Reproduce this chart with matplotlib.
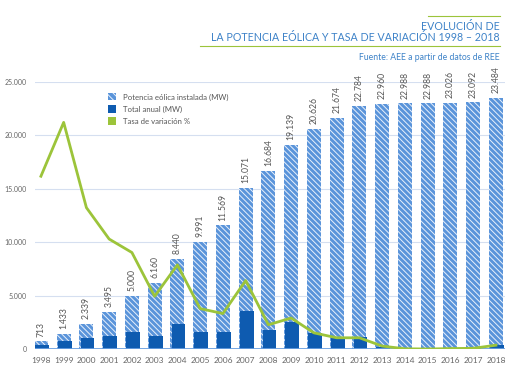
import matplotlib
matplotlib.use("Agg")
import matplotlib.pyplot as plt
from matplotlib.patches import Patch
from matplotlib.lines import Line2D

plt.rcParams['font.family'] = ['Lato', 'DejaVu Sans']
plt.rcParams['hatch.linewidth'] = 0.7

years = [str(y) for y in range(1998, 2019)]
potencia = [713, 1433, 2339, 3495, 5000, 6160, 8440, 9991, 11569, 15071, 16684,
            19139, 20626, 21674, 22784, 22960, 22988, 22988, 23026, 23092, 23484]
total_anual = [380, 720, 1000, 1200, 1620, 1200, 2340, 1620, 1620, 3590, 1780,
               2560, 1530, 1150, 1100, 220, 50, 0, 40, 70, 420]
tasa = [77, 101, 63, 49, 43, 23.5, 37.5, 18, 15.8, 30.5, 10.8, 13.8, 7.2, 5, 5,
        1.3, 0.1, 0, 0.2, 0.3, 1.7]

light_blue = '#5a94da'
dark_blue = '#0e5bb0'
green = '#9cc43a'
title_blue = '#3d82c8'
gray = '#666666'

fig = plt.figure(figsize=(5.1, 3.82), dpi=100)
ax = fig.add_axes([35 / 510, 1 - 349 / 382, 470 / 510, (349 - 82) / 382])
x = list(range(len(years)))

ax.bar(x, potencia, width=0.62, color=light_blue, edgecolor='#e8f0fb',
       linewidth=0, hatch='\\\\\\\\\\\\', zorder=2)
ax.bar([i + 0.05 for i in x], total_anual, width=0.6, color=dark_blue,
       linewidth=0, zorder=3)

for i, v in zip(x, potencia):
    ax.text(i, v + 450, f'{v:,}'.replace(',', '.'), rotation=90, ha='center',
            va='bottom', fontsize=6.2, color='#555555', clip_on=False)

ax.set_xlim(-0.26, 20.4)
ax.set_ylim(0, 25000)
ax.set_yticks(range(0, 25001, 5000))
ax.set_yticklabels([f'{v:,}'.replace(',', '.') for v in range(0, 25001, 5000)],
                   fontsize=5, color=gray)
ax.set_xticks(x)
ax.set_xticklabels(years, fontsize=6, color='#666666')
ax.tick_params(length=0, pad=6)
ax.tick_params(axis='y', pad=6)
ax.grid(axis='y', color='#d5dff0', linewidth=0.8, zorder=0)
for s in ax.spines.values():
    s.set_visible(False)
ax.axhline(0, color='#6a9fe0', linewidth=2, zorder=4)

ax2 = ax.twinx()
ax2.plot(x, tasa, color=green, linewidth=2, zorder=5)
ax2.set_ylim(0, 119)
ax2.axis('off')

handles = [Patch(facecolor=light_blue, edgecolor='#e8f0fb', hatch='\\\\\\\\\\', linewidth=0),
           Patch(facecolor=dark_blue, linewidth=0),
           Patch(facecolor=green, linewidth=0)]
ax2.legend(handles, ['Potencia eólica instalada (MW)', 'Total anual (MW)',
                     'Tasa de variación %'],
           loc='upper left', bbox_to_anchor=(0.14, 0.985), frameon=False,
           fontsize=5.6, handlelength=1.0, handleheight=1.1, labelspacing=0.6,
           labelcolor='#555555', handletextpad=0.9)

fig.text(500 / 510, 1 - 32 / 382, 'EVOLUCIÓN DE\nLA POTENCIA EÓLICA Y TASA DE VARIACIÓN 1998 – 2018',
         ha='right', va='center', fontsize=7.7, color=title_blue,
         linespacing=0.95)
fig.text(500 / 510, 1 - 57 / 382, 'Fuente: AEE a partir de datos de REE',
         ha='right', va='center', fontsize=6.2, color=title_blue)
fig.add_artist(Line2D([428 / 510, 500 / 510], [1 - 16 / 382] * 2, color=green, linewidth=0.8))
fig.add_artist(Line2D([200 / 510, 500 / 510], [1 - 46 / 382] * 2, color=green, linewidth=0.8))

fig.savefig('out.png', dpi=100, facecolor='white')
